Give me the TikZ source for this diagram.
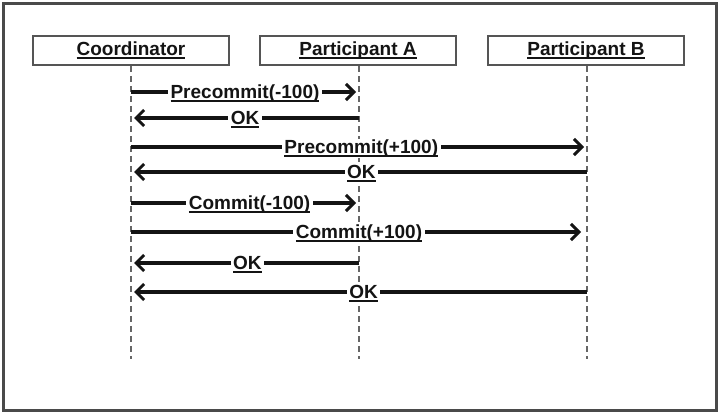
\documentclass[tikz,border=0pt]{standalone}
\usepackage{fontspec}
\setmainfont{Liberation Sans}
\usetikzlibrary{arrows.meta}
\newcommand\ulbold[1]{\setbox0=\hbox{#1}\copy0\llap{\raisebox{-3.4pt}{\rule{\wd0}{2pt}}}}
\definecolor{framegray}{HTML}{4A4A4A}
\definecolor{boxgray}{HTML}{555555}
\definecolor{lifegray}{HTML}{666666}
\definecolor{ink}{HTML}{141414}
\tikzset{
  every node/.style={font=\fontsize{19}{22}\selectfont\bfseries, text=ink},
  headbox/.style={draw=boxgray, line width=2.4pt, fill=white, minimum width=196pt, minimum height=29pt, inner sep=0pt},
  lifeline/.style={draw=lifegray, line width=1.8pt, dash pattern=on 6pt off 4pt},
  msg/.style={draw=ink, line width=3.2pt, -{Straight Barb[length=8pt,width=16pt,line width=3pt]}, shorten >=3pt},
  lbl/.style={fill=white, inner xsep=2.5pt, inner ysep=1pt, yshift=-1.5pt}
}
\begin{document}
\begin{tikzpicture}[x=1pt,y=-1pt]
\useasboundingbox (0,0) rectangle (720,414);
\draw[framegray, line width=3.2pt] (3.5,3.5) rectangle (716.5,410.5);
% headers
\node[headbox] (C) at (131,50.5) {\ulbold{Coordinator}};
\node[headbox] (A) at (358,50.5) {\ulbold{Participant A}};
\node[headbox] (B) at (586,50.5) {\ulbold{Participant B}};
% lifeline ends
\coordinate (Ce) at (131,359);
\coordinate (Ae) at (359,359);
\coordinate (Be) at (587,359);
\draw[lifeline] (C.south -| Ce) -- (Ce);
\draw[lifeline] (A.south -| Ae) -- (Ae);
\draw[lifeline] (B.south -| Be) -- (Be);
% message points
\foreach \n/\y in {1/92,2/118,3/147,4/172,5/203,6/232,7/263,8/292}{
  \coordinate (c\n) at (131,\y);
  \coordinate (a\n) at (359,\y);
  \coordinate (b\n) at (587,\y);
}
\draw[msg] (c1) -- (a1) node[lbl, midway] (m1) {\ulbold{Precommit(-100)}};
\draw[msg] (a2) -- (c2) node[lbl, midway] (m2) {\ulbold{OK}};
\draw[msg] (c3) -- (b3) node[lbl, pos=0.505] (m3) {\ulbold{Precommit(+100)}};
\draw[msg] (b4) -- (c4) node[lbl, pos=0.495] (m4) {\ulbold{OK}};
\draw[msg] (c5) -- (a5) node[lbl, pos=0.52] (m5) {\ulbold{Commit(-100)}};
\draw[msg, shorten >=6pt] (c6) -- (b6) node[lbl, midway] (m6) {\ulbold{Commit(+100)}};
\draw[msg] (a7) -- (c7) node[lbl, pos=0.49] (m7) {\ulbold{OK}};
\draw[msg] (b8) -- (c8) node[lbl, pos=0.49] (m8) {\ulbold{OK}};
\end{tikzpicture}
\end{document}
